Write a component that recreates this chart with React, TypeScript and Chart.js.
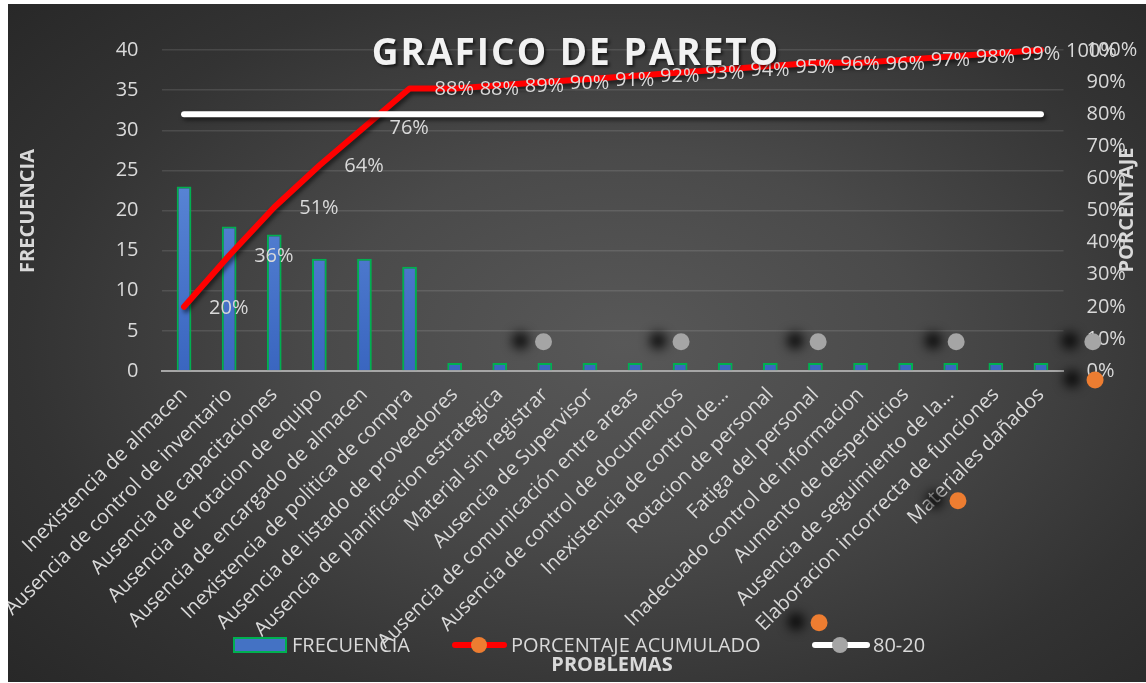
import React, { useEffect, useRef } from 'react';
import { Chart, registerables } from 'chart.js';

Chart.register(...registerables);

const FONT = "'Open Sans', 'Noto Sans', sans-serif";
const TEXT = '#d9d9d9';

const categories = [
  'Inexistencia de almacen',
  'Ausencia de control de inventario',
  'Ausencia de capacitaciones',
  'Ausencia de rotacion de equipo',
  'Ausencia de encargado de almacen',
  'Inexistencia de politica de compra',
  'Ausencia de listado de proveedores',
  'Ausencia de planificacion estrategica',
  'Material sin registrar',
  'Ausencia de Supervisor',
  'Ausencia de comunicación entre areas',
  'Ausencia de control de documentos',
  'Inexistencia de control de…',
  'Rotacion de personal',
  'Fatiga del personal',
  'Inadecuado control de informacion',
  'Aumento de desperdicios',
  'Ausencia de seguimiento de la…',
  'Elaboracion incorrecta de funciones',
  'Materiales dañados',
];

const frecuencia = [23, 18, 17, 14, 14, 13, 1, 1, 1, 1, 1, 1, 1, 1, 1, 1, 1, 1, 1, 1];
const porcentajeAcumulado = [20, 36, 51, 64, 76, 88, 88, 89, 90, 91, 92, 93, 94, 95, 96, 96, 97, 98, 99, 100];
const linea8020 = [80, 80, 80, 80, 80, 80, 80, 80, 80, 80, 80, 80, 80, 80, 80, 80, 80, 80, 80, 80];

// stray marker points as they appear on the picture (category index, percent)
const grayMarkerX = [7.97, 11.02, 14.06, 17.12, 20.15];
const grayMarkerY = [9.1, 9.1, 9.1, 9.1, 9.1];
const orangeMarkerX = [14.08, 17.16, 20.2];
const orangeMarkerY = [-78.4, -40.4, -2.8];

const freqTicks = { min: 0, max: 40, step: 5 };
const pctTicks = { min: 0, max: 100, step: 10 };

const lineShadow = { color: 'rgba(0,0,0,0.55)', blur: 4, x: 2, y: 3 };
const shadowedDatasets = [1, 2];

const overlayPlugin = {
  id: 'overlay',
  beforeDatasetDraw(chart: any, args: any) {
    if (shadowedDatasets.indexOf(args.index) < 0) return;
    const ctx = chart.ctx;
    ctx.save();
    ctx.shadowColor = lineShadow.color;
    ctx.shadowBlur = lineShadow.blur;
    ctx.shadowOffsetX = lineShadow.x;
    ctx.shadowOffsetY = lineShadow.y;
  },
  afterDatasetDraw(chart: any, args: any) {
    if (shadowedDatasets.indexOf(args.index) >= 0) chart.ctx.restore();
  },
  afterDatasetsDraw(chart: any) {
    const ctx = chart.ctx;
    const xs = chart.scales.x;
    const ys = chart.scales.yPct;
    const drawMarkers = (xv: number[], yv: number[], color: string) => {
      xv.forEach((v, i) => {
        const px = xs.getPixelForValue(v);
        const py = ys.getPixelForValue(yv[i]);
        ctx.save();
        ctx.shadowColor = 'rgba(0,0,0,0.85)';
        ctx.shadowBlur = 11;
        ctx.shadowOffsetX = -23;
        ctx.shadowOffsetY = -1;
        ctx.fillStyle = color;
        ctx.beginPath();
        ctx.arc(px, py, 8.5, 0, Math.PI * 2);
        ctx.fill();
        ctx.restore();
      });
    };
    drawMarkers(grayMarkerX, grayMarkerY, '#a5a5a5');
    drawMarkers(orangeMarkerX, orangeMarkerY, '#ed7d31');

    const meta = chart.getDatasetMeta(1);
    ctx.save();
    ctx.font = `20px ${FONT}`;
    ctx.fillStyle = TEXT;
    ctx.textAlign = 'left';
    ctx.textBaseline = 'middle';
    meta.data.forEach((pt: any, i: number) => {
      ctx.fillText(porcentajeAcumulado[i] + '%', pt.x + 25, pt.y + 1);
    });
    ctx.restore();
  },
  afterDraw(chart: any) {
    const ctx = chart.ctx;
    ctx.save();
    ctx.font = `bold 37px ${FONT}`;
    (ctx as any).letterSpacing = '2px';
    ctx.textAlign = 'center';
    ctx.textBaseline = 'alphabetic';
    ctx.shadowColor = 'rgba(0,0,0,0.6)';
    ctx.shadowBlur = 3;
    ctx.shadowOffsetX = 2;
    ctx.shadowOffsetY = 2;
    ctx.fillStyle = '#f2f2f2';
    ctx.fillText('GRAFICO DE PARETO', 568, 61);
    ctx.restore();

    ctx.save();
    ctx.fillStyle = TEXT;
    ctx.font = `bold 20px ${FONT}`;
    ctx.textAlign = 'center';
    ctx.textBaseline = 'middle';
    ctx.save();
    ctx.translate(20, 207);
    ctx.rotate(-Math.PI / 2);
    ctx.fillText('FRECUENCIA', 0, 0);
    ctx.restore();
    ctx.save();
    ctx.translate(1119, 206);
    ctx.rotate(-Math.PI / 2);
    ctx.fillText('PORCENTAJE', 0, 0);
    ctx.restore();
    ctx.fillText('PROBLEMAS', 604, 661);
    ctx.restore();

    ctx.save();
    const ly = 641;
    ctx.fillStyle = '#4472c4';
    ctx.fillRect(226, ly - 7, 52, 14);
    ctx.strokeStyle = '#00b050';
    ctx.lineWidth = 2;
    ctx.strokeRect(226, ly - 7, 52, 14);
    ctx.lineCap = 'round';
    ctx.lineWidth = 6;
    ctx.strokeStyle = '#ff0000';
    ctx.beginPath();
    ctx.moveTo(447, ly);
    ctx.lineTo(496, ly);
    ctx.stroke();
    ctx.fillStyle = '#ed7d31';
    ctx.beginPath();
    ctx.arc(471, ly, 8, 0, Math.PI * 2);
    ctx.fill();
    ctx.strokeStyle = '#ffffff';
    ctx.beginPath();
    ctx.moveTo(807, ly);
    ctx.lineTo(859, ly);
    ctx.stroke();
    ctx.fillStyle = '#a5a5a5';
    ctx.beginPath();
    ctx.arc(832, ly, 8, 0, Math.PI * 2);
    ctx.fill();
    ctx.fillStyle = TEXT;
    ctx.font = `20px ${FONT}`;
    ctx.textAlign = 'left';
    ctx.textBaseline = 'middle';
    ctx.fillText('FRECUENCIA', 284, ly + 1);
    ctx.fillText('PORCENTAJE ACUMULADO', 503, ly + 1);
    ctx.fillText('80-20', 865, ly + 1);
    ctx.restore();
  },
};

export default function App() {
  const ref = useRef<HTMLCanvasElement>(null);

  useEffect(() => {
    const canvas = ref.current;
    if (!canvas) return;
    const chart = new Chart(canvas, {
      type: 'bar',
      data: {
        labels: categories,
        datasets: [
          {
            type: 'bar',
            label: 'FRECUENCIA',
            data: frecuencia,
            yAxisID: 'y',
            xAxisID: 'x',
            order: 4,
            grouped: false,
            backgroundColor: (c: any) => {
              const { ctx, chartArea } = c.chart;
              if (!chartArea) return '#4472c4';
              const g = ctx.createLinearGradient(0, chartArea.top + 100, 0, chartArea.bottom);
              g.addColorStop(0, '#5d89d8');
              g.addColorStop(1, '#3a66c0');
              return g;
            },
            borderColor: '#00b050',
            borderWidth: 2,
            barPercentage: 0.326,
            categoryPercentage: 1,
          } as any,
          {
            type: 'line',
            label: 'PORCENTAJE ACUMULADO',
            data: porcentajeAcumulado,
            yAxisID: 'yPct',
            xAxisID: 'x',
            order: 3,
            borderColor: '#ff0000',
            borderWidth: 6,
            borderCapStyle: 'round',
            borderJoinStyle: 'round',
            pointRadius: 0,
            tension: 0,
            clip: false,
          } as any,
          {
            type: 'line',
            label: '80-20',
            data: linea8020,
            yAxisID: 'yPct',
            xAxisID: 'x',
            order: 2,
            borderColor: '#ffffff',
            borderWidth: 6,
            borderCapStyle: 'round',
            pointRadius: 0,
            tension: 0,
            clip: false,
          } as any,
        ],
      },
      options: {
        responsive: false,
        animation: false,
        events: [],
        layout: { padding: { top: 46, left: 0, right: 0, bottom: 0 } },
        plugins: {
          legend: { display: false },
          title: { display: false },
          tooltip: { enabled: false },
        },
        scales: {
          x: {
            type: 'category',
            position: 'bottom',
            offset: true,
            grid: { display: false, drawTicks: false },
            border: { display: true, color: '#a6a6a6', width: 2 },
            ticks: {
              autoSkip: false,
              maxRotation: 45,
              minRotation: 45,
              color: TEXT,
              font: { family: FONT, size: 20 },
              padding: 12,
            },
            afterFit: (s: any) => {
              s.height = 311;
            },
          },
          y: {
            type: 'linear',
            position: 'left',
            min: freqTicks.min,
            max: freqTicks.max,
            ticks: {
              stepSize: freqTicks.step,
              color: TEXT,
              font: { family: FONT, size: 20 },
              padding: 23,
            },
            grid: {
              color: (c: any) => (c.tick && c.tick.value === 0 ? 'rgba(0,0,0,0)' : 'rgba(255,255,255,0.11)'),
              lineWidth: 1.5,
              drawTicks: false,
            },
            border: { display: false },
            afterFit: (s: any) => {
              s.width = 153.5;
            },
          },
          yPct: {
            type: 'linear',
            position: 'right',
            min: pctTicks.min,
            max: pctTicks.max,
            ticks: {
              stepSize: pctTicks.step,
              color: TEXT,
              font: { family: FONT, size: 20 },
              padding: 23,
              callback: (v: any) => v + '%',
            },
            grid: { display: false, drawTicks: false },
            border: { display: false },
            afterFit: (s: any) => {
              s.width = 82.5;
            },
          },
        },
      } as any,
      plugins: [overlayPlugin],
    });
    return () => chart.destroy();
  }, []);

  return (
    <div
      style={{
        position: 'absolute',
        left: 8,
        top: 4,
        width: 1138,
        height: 678,
        background:
          'radial-gradient(ellipse 75% 80% at 54% 50%, #585858 0%, #4a4a4a 35%, #333333 70%, #262626 100%)',
      }}
    >
      <canvas ref={ref} width={1138} height={678} style={{ display: 'block' }} />
    </div>
  );
}
